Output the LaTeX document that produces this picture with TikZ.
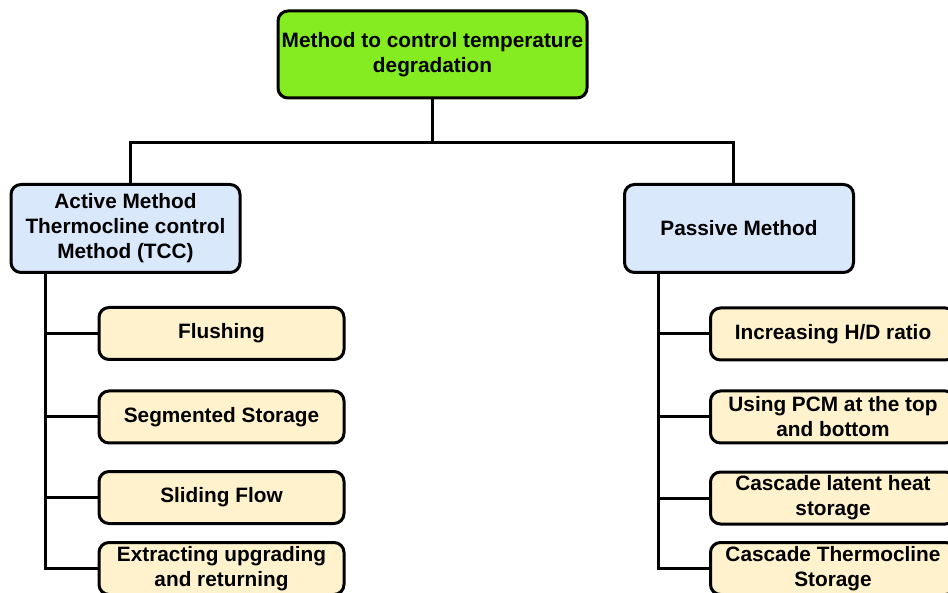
\documentclass[tikz,border=0pt]{standalone}
\usepackage{fontspec}
\setmainfont{Liberation Sans}
\usetikzlibrary{positioning}

\definecolor{rootgreen}{HTML}{86EC22}
\definecolor{methodblue}{HTML}{DAE8FC}
\definecolor{leafyellow}{HTML}{FFF2CC}

\begin{document}
\begin{tikzpicture}[
    x=1pt,
    y=-1pt,
    line width=3pt,
    box/.style={draw, rounded corners=10pt, align=center, inner sep=0pt,
        font=\fontsize{20.8}{25}\selectfont\bfseries},
    root/.style={box, fill=rootgreen, minimum width=309pt, minimum height=87pt},
    method/.style={box, fill=methodblue, minimum width=229pt, minimum height=88pt},
    leaf/.style={box, fill=leafyellow, minimum width=245pt, minimum height=52pt}
]
	\useasboundingbox (0,0) rectangle (948,593);
	\clip (0,0) rectangle (948,593);

	\node[root] (Root) at (432.5,54.5) {Method to control temperature\\degradation};
	\node[method] (Active) at (125.5,228.5) {Active Method\\Thermocline control\\Method (TCC)};
	\node[method] (Passive) at (739,228.5) {Passive Method};

	\node[leaf] (Flush) at (221.5,333.5) {Flushing};
	\node[leaf] (Segment) at (221.5,417) {Segmented Storage};
	\node[leaf] (Slide) at (221.5,497.5) {Sliding Flow};
	\node[leaf] (Extract) at (221.5,568.5) {Extracting upgrading\\and returning};

	\node[leaf] (Ratio) at (833,334) {Increasing H/D ratio};
	\node[leaf] (PCM) at (833,417) {Using PCM at the top\\and bottom};
	\node[leaf] (Latent) at (833,498) {Cascade latent heat\\storage};
	\node[leaf] (Cascade) at (833,568.5) {Cascade Thermocline\\Storage};

	% root to the two methods
	\draw (Root.south) -- ++(0,43) -| ([xshift=4.5pt]Active.north);
	\draw (Root.south) -- ++(0,43) -| ([xshift=-6pt]Passive.north);

	% trunks and branches
	\draw ([xshift=36pt]Active.south west) |- (Extract.west);
	\foreach \leafname in {Flush,Segment,Slide}
		\draw (\leafname.west) -- ++(-52,0);
	\draw ([xshift=35pt]Passive.south west) |- (Cascade.west);
	\foreach \leafname in {Ratio,PCM,Latent}
		\draw (\leafname.west) -- ++(-51,0);
\end{tikzpicture}
\end{document}
